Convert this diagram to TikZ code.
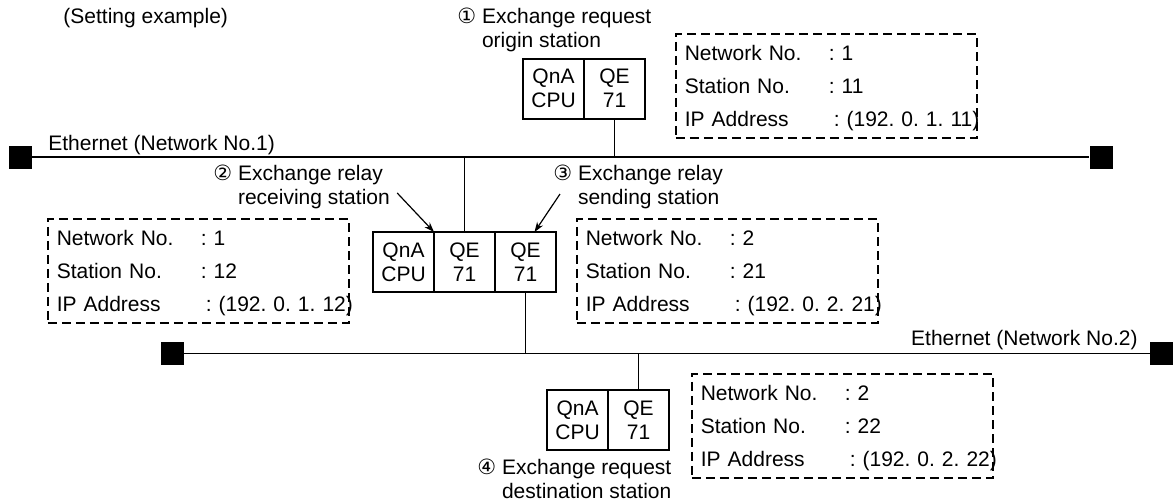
\documentclass[tikz,border=0pt]{standalone}
\usepackage{fontspec}
\setmainfont{Liberation Sans}
\newfontfamily\circfont{DejaVu Sans}
\usepackage{tikz}
\usetikzlibrary{positioning,arrows.meta}

\newcommand{\cnum}[1]{{\circfont\fontsize{10.5}{12}\selectfont #1}}
\newcommand{\infoline}[2]{\makebox[72pt][l]{#1}\mbox{#2}}

\begin{document}
\begin{tikzpicture}[x=0.5pt, y=-0.5pt, >={Stealth[length=5pt,width=3.5pt]},
    font=\fontsize{10.5}{12}\selectfont,
    cell/.style={draw, line width=1pt, minimum width=30.5pt, minimum height=30pt,
      inner sep=0pt, outer sep=0pt, align=center},
    info/.style={draw, line width=0.8pt, dash pattern=on 4.5pt off 2.5pt,
      anchor=north west, minimum height=52pt, inner xsep=4.5pt, inner ysep=0pt,
      text width=141.5pt, align=left, font=\fontsize{10.5}{16.5}\selectfont\frenchspacing},
    hub/.style={fill, minimum size=11.5pt, inner sep=0pt},
    net/.style={line width=0.7pt},
    tag/.style={align=left, anchor=west, inner sep=0pt}]
  \useasboundingbox (0,0) rectangle (1176,500);

  \node[anchor=west, inner sep=0pt] (title) at (63,18) {(Setting example)};

  % request origin
  \node[tag] (lbl1) at (457,30) {\cnum{①} Exchange request\\\phantom{\cnum{①} }origin station};
  \node[cell] (cpu1) at (553.5,88.5) {QnA\\CPU};
  \node[cell, right=0pt of cpu1] (qe1) {QE\\71};
  \node[info] (info1) at (675,33) {\rule{0pt}{9.6pt}\infoline{Network No.}{: 1}\\
    \infoline{Station No.}{: 11}\\
    \infoline{IP Address}{\hspace{2.5pt}: (192. 0. 1. 11)}};

  % network 1
  \node[hub] (hub1l) at (20,157) {};
  \node[hub] (hub1r) at (1101,157) {};
  \node[anchor=base west, inner sep=0pt] (eth1) at (48,150) {Ethernet (Network No.1)};

  % relay station
  \node[tag] (lbl2) at (213,186.5) {\cnum{②} Exchange relay\\\phantom{\cnum{②} }receiving station};
  \node[tag] (lbl3) at (553,186.5) {\cnum{③} Exchange relay\\\phantom{\cnum{③} }sending station};
  \node[cell] (cpu2) at (403.5,262) {QnA\\CPU};
  \node[cell, right=0pt of cpu2] (qe2) {QE\\71};
  \node[cell, right=0pt of qe2] (qe3) {QE\\71};
  \node[info] (info2) at (47,218) {\rule{0pt}{9.6pt}\infoline{Network No.}{: 1}\\
    \infoline{Station No.}{: 12}\\
    \infoline{IP Address}{\hspace{2.5pt}: (192. 0. 1. 12)}};
  \node[info] (info3) at (576,218) {\rule{0pt}{9.6pt}\infoline{Network No.}{: 2}\\
    \infoline{Station No.}{: 21}\\
    \infoline{IP Address}{\hspace{2.5pt}: (192. 0. 2. 21)}};

  % network 2
  \node[hub] (hub2l) at (172,353.5) {};
  \node[hub] (hub2r) at (1161.5,353.5) {};
  \node[anchor=base east, inner sep=0pt] (eth2) at (1138,345) {Ethernet (Network No.2)};

  % request destination
  \node[cell] (cpu4) at (577.5,420) {QnA\\CPU};
  \node[cell, right=0pt of cpu4] (qe4) {QE\\71};
  \node[tag] (lbl4) at (477,478.5) {\cnum{④} Exchange request\\\phantom{\cnum{④} }destination station};
  \node[info] (info4) at (691,373) {\rule{0pt}{9.6pt}\infoline{Network No.}{: 2}\\
    \infoline{Station No.}{: 22}\\
    \infoline{IP Address}{\hspace{2.5pt}: (192. 0. 2. 22)}};

  \draw[net] (hub1l) -- (hub1r);
  \draw[net] (hub2l) -- (hub2r);
  \draw[net] (qe1.south) -- (qe1.south |- hub1l);
  \draw[net] (qe2.north) -- (qe2.north |- hub1l);
  \draw[net] (qe3.south) -- (qe3.south |- hub2l);
  \draw[net] (qe4.north) -- (qe4.north |- hub2l);

  \draw[->, line width=0.6pt] ([xshift=3.5pt,yshift=-3.25pt]lbl2.east) -- (cpu2.north east);
  \draw[->, line width=0.6pt] ([xshift=3.5pt,yshift=-3.75pt]lbl3.west) -- ([xshift=4.5pt]qe3.north);
\end{tikzpicture}
\end{document}
